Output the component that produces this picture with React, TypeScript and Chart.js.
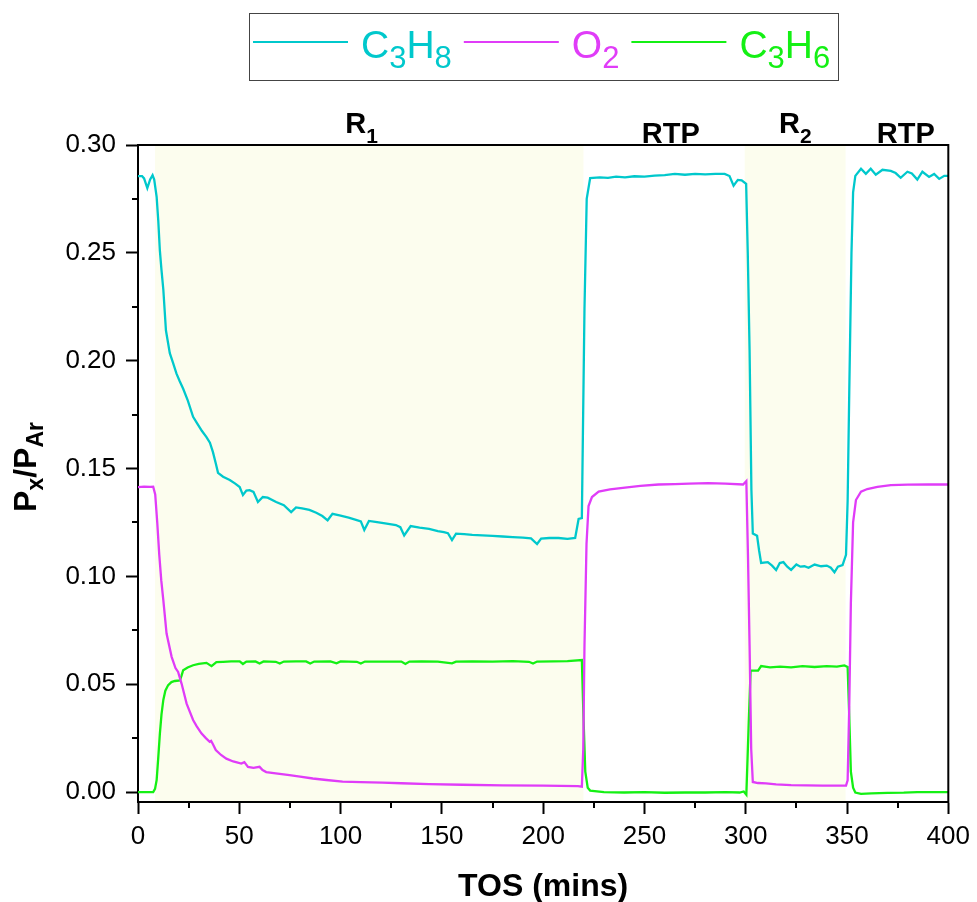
import React, { useEffect, useRef } from 'react';
import { Chart, registerables } from 'chart.js';

Chart.register(...registerables);

// Time on stream (min) and normalised partial pressures P_x / P_Ar
const c3h8Time = [
  0, 2, 3, 4.6, 6, 7.2, 8, 9.2, 10, 10.8, 11.6, 12.5, 13.8, 15.7, 17.3, 19, 20.6, 22.3, 24.6, 27.2,
  29.5, 31.5, 33.8, 35.5, 37, 38.5, 39.5, 42, 45.3, 48, 50.2, 51.8, 53.5, 55.1, 57, 59.2, 61.6, 64, 68.2, 72,
  75.6, 78, 81, 84.6, 88, 91, 93.6, 96, 100, 104, 107.6, 110, 111.7, 114, 118, 122, 127.3, 129.5, 131.4, 134.6,
  139, 143.7, 148, 151, 153, 155, 157, 161, 165, 170, 175, 180, 185, 190, 194, 197, 199, 203, 207.6, 212,
  215.8, 217.5, 219.1, 220.4, 221.5, 223.2, 228, 232, 236, 240.4, 245, 250, 255, 260, 265, 270, 275, 280, 285, 289.6,
  292, 294, 296.1, 298, 300.2, 301, 301.9, 302.8, 303.5, 305.6, 306.6, 307.6, 310.9, 313, 315, 316.8, 318.6, 320.5, 322.4, 325,
  327, 329, 331, 334, 337.2, 340, 342, 343.8, 345.5, 347.8, 349.5, 350.3, 351.1, 352.2, 353, 354.1, 356.9, 359.3, 361.7, 364.2,
  367.5, 371.6, 374, 376.5, 379.8, 382, 384.7, 387.2, 390.5, 393, 395.5, 398, 400,
];
const c3h8Values = [
  0.2856, 0.2856, 0.2845, 0.2800, 0.2840, 0.2860, 0.2840, 0.2760, 0.2650, 0.2510, 0.2420, 0.2330, 0.2140, 0.2035, 0.1990, 0.1940, 0.1905, 0.1870, 0.1815, 0.1740,
  0.1705, 0.1675, 0.1646, 0.1620, 0.1576, 0.1520, 0.1480, 0.1462, 0.1447, 0.1430, 0.1414, 0.1377, 0.1398, 0.1400, 0.1392, 0.1345, 0.1368, 0.1365, 0.1345, 0.1330,
  0.1298, 0.1320, 0.1315, 0.1308, 0.1295, 0.1280, 0.1260, 0.1290, 0.1282, 0.1272, 0.1262, 0.1255, 0.1215, 0.1257, 0.1252, 0.1246, 0.1238, 0.1228, 0.1190, 0.1233,
  0.1226, 0.1220, 0.1210, 0.1205, 0.1200, 0.1168, 0.1198, 0.1196, 0.1192, 0.1190, 0.1188, 0.1185, 0.1182, 0.1180, 0.1176, 0.1150, 0.1175, 0.1178, 0.1178, 0.1174,
  0.1178, 0.1266, 0.1270, 0.2240, 0.2750, 0.2847, 0.2850, 0.2848, 0.2853, 0.2850, 0.2855, 0.2853, 0.2858, 0.2860, 0.2866, 0.2862, 0.2866, 0.2864, 0.2866, 0.2866,
  0.2856, 0.2811, 0.2838, 0.2836, 0.2820, 0.2500, 0.2050, 0.1400, 0.1199, 0.1188, 0.1120, 0.1062, 0.1066, 0.1050, 0.1030, 0.1062, 0.1066, 0.1045, 0.1030, 0.1055,
  0.1045, 0.1047, 0.1040, 0.1055, 0.1047, 0.1050, 0.1040, 0.1019, 0.1045, 0.1052, 0.1100, 0.1350, 0.1852, 0.2500, 0.2780, 0.2857, 0.2890, 0.2866, 0.2890, 0.2862,
  0.2885, 0.2880, 0.2870, 0.2848, 0.2876, 0.2868, 0.2840, 0.2876, 0.2852, 0.2866, 0.2843, 0.2857, 0.2857,
];

const o2Time = [
  0, 3, 6, 7.5, 8.5, 9.5, 10.5, 11.5, 12.5, 14.1, 16.6, 18.5, 19.8, 21.5, 24, 27.2, 29, 31.3, 33.5, 35.4,
  36.1, 37, 38.4, 41, 43.6, 47, 51, 52.5, 54.3, 57, 60, 61.5, 63.3, 68, 74.8, 80, 86.3, 93, 101, 110,
  120.7, 130, 143.7, 160, 180, 200, 217.2, 219.1, 219.8, 220.4, 221.4, 222.4, 224.1, 227.4, 233, 240.4, 248, 256.9, 265, 272,
  281.5, 290, 298.7, 300.3, 301.1, 301.9, 302.7, 303.5, 306, 310, 315, 322.4, 330, 338, 345, 349.5, 350.3, 351.1, 351.9, 353,
  354.4, 356.9, 360, 365, 371.6, 380, 390, 400,
];
const o2Values = [
  0.1414, 0.1416, 0.1415, 0.1416, 0.1380, 0.1250, 0.1100, 0.0980, 0.0890, 0.0735, 0.0627, 0.0575, 0.0557, 0.0503, 0.0410, 0.0334, 0.0305, 0.0272, 0.0250, 0.0233,
  0.0237, 0.0222, 0.0195, 0.0172, 0.0155, 0.0142, 0.0132, 0.0139, 0.0117, 0.0112, 0.0117, 0.0102, 0.0093, 0.0087, 0.0079, 0.0072, 0.0063, 0.0056, 0.0048, 0.0046,
  0.0044, 0.0041, 0.0037, 0.0034, 0.0031, 0.0030, 0.0028, 0.0025, 0.0200, 0.0680, 0.1150, 0.1326, 0.1368, 0.1393, 0.1403, 0.1412, 0.1420, 0.1426, 0.1428, 0.1430,
  0.1432, 0.1430, 0.1426, 0.1442, 0.1100, 0.0680, 0.0200, 0.0047, 0.0042, 0.0040, 0.0036, 0.0032, 0.0031, 0.0030, 0.0030, 0.0030, 0.0055, 0.0400, 0.0876, 0.1250,
  0.1354, 0.1393, 0.1405, 0.1415, 0.1423, 0.1425, 0.1426, 0.1426,
];

const c3h6Time = [
  0, 4, 7.5, 8.4, 9.2, 10, 10.8, 11.6, 12.5, 13.5, 14.9, 16.5, 18.2, 20.7, 21.5, 22.3, 24.5, 27.2, 30, 33.8,
  36.3, 38.7, 42, 46, 50.2, 51.8, 53.5, 58, 60, 62, 68, 70, 72, 78, 83, 85, 87, 95, 98, 100,
  108, 110, 112, 120, 130, 132, 134, 140, 148, 155, 157, 165, 175, 185, 193, 195, 197, 205, 212, 219.1,
  219.9, 220.8, 222, 223.2, 230, 240, 250, 260, 270, 280, 290, 297, 299, 300.3, 301.4, 302.4, 306.1, 307.6, 312, 317,
  322.4, 328, 334, 340, 345, 348.7, 350.3, 351.1, 351.9, 353, 354.1, 356.9, 362, 370, 378, 384.7, 392, 400,
];
const c3h6Values = [
  0.0000, 0.0000, 0.0000, 0.0015, 0.0055, 0.0160, 0.0271, 0.0360, 0.0427, 0.0470, 0.0496, 0.0510, 0.0515, 0.0518, 0.0540, 0.0565, 0.0578, 0.0588, 0.0594, 0.0599,
  0.0584, 0.0603, 0.0604, 0.0606, 0.0606, 0.0594, 0.0605, 0.0606, 0.0596, 0.0606, 0.0604, 0.0596, 0.0605, 0.0606, 0.0606, 0.0596, 0.0605, 0.0606, 0.0597, 0.0606,
  0.0604, 0.0596, 0.0605, 0.0605, 0.0605, 0.0594, 0.0605, 0.0606, 0.0605, 0.0597, 0.0605, 0.0606, 0.0605, 0.0607, 0.0604, 0.0596, 0.0605, 0.0606, 0.0607, 0.0612,
  0.0350, 0.0095, 0.0020, 0.0007, 0.0000, -0.0002, 0.0000, -0.0003, -0.0002, -0.0002, 0.0000, -0.0002, 0.0003, -0.0012, 0.0300, 0.0563, 0.0563, 0.0584, 0.0578, 0.0582,
  0.0578, 0.0584, 0.0580, 0.0584, 0.0582, 0.0587, 0.0580, 0.0350, 0.0095, 0.0020, -0.0002, -0.0008, -0.0006, -0.0004, -0.0003, 0.0000, 0.0000, 0.0000,
];

// Axis ticks
const xMajorTicks = [0, 50, 100, 150, 200, 250, 300, 350, 400];
const xMinorTicks = [25, 75, 125, 175, 225, 275, 325, 375];
const yMajorTicks = [0, 0.05, 0.1, 0.15, 0.2, 0.25, 0.3];
const yMinorTicks = [0.025, 0.075, 0.125, 0.175, 0.225, 0.275];

// Reaction periods (shaded) and the period labels above the frame
const shadeStart = [8.4, 299.5];
const shadeEnd = [219.9, 349.3];
const periodNames = ['R', 'RTP', 'R', 'RTP'];
const periodSubs = ['1', '', '2', ''];
const periodCentres = [110.4, 263, 324.5, 379];

// Legend entries: [text, isSubscript]
const legendRuns: [string, boolean][][] = [
  [['C', false], ['3', true], ['H', false], ['8', true]],
  [['O', false], ['2', true]],
  [['C', false], ['3', true], ['H', false], ['6', true]],
];

const COLORS = ['#00C8CC', '#E03CF8', '#14F014'];
const SHADE = '#FCFDEE';
const FONT = "'Liberation Sans', Arial, Helvetica, sans-serif";

function runsWidth(ctx: CanvasRenderingContext2D, runs: [string, boolean][], big: string, small: string) {
  let w = 0;
  for (const [t, sub] of runs) {
    ctx.font = sub ? small : big;
    w += ctx.measureText(t).width;
  }
  return w;
}

function drawRuns(
  ctx: CanvasRenderingContext2D,
  runs: [string, boolean][],
  x: number,
  y: number,
  big: string,
  small: string,
  dy: number,
) {
  let cx = x;
  for (const [t, sub] of runs) {
    ctx.font = sub ? small : big;
    ctx.fillText(t, cx, sub ? y + dy : y);
    cx += ctx.measureText(t).width;
  }
  return cx;
}

const decorPlugin = {
  id: 'decor',
  beforeDatasetsDraw(chart: any) {
    const { ctx, chartArea: a, scales } = chart;
    const xs = scales.x;
    ctx.save();
    ctx.fillStyle = SHADE;
    for (let i = 0; i < shadeStart.length; i++) {
      const x0 = xs.getPixelForValue(shadeStart[i]);
      const x1 = xs.getPixelForValue(shadeEnd[i]);
      ctx.fillRect(x0, a.top + 1, x1 - x0, a.bottom - a.top - 2);
    }
    ctx.restore();
  },
  afterDraw(chart: any) {
    const { ctx, chartArea: a, scales } = chart;
    const xs = scales.x;
    const ys = scales.y;
    ctx.save();

    // frame: top and right edges
    ctx.strokeStyle = '#000';
    ctx.lineWidth = 2;
    ctx.beginPath();
    ctx.moveTo(a.left - 1, a.top);
    ctx.lineTo(a.right, a.top);
    ctx.lineTo(a.right, a.bottom + 1);
    ctx.stroke();

    // minor ticks
    ctx.beginPath();
    for (const v of yMinorTicks) {
      const py = Math.round(ys.getPixelForValue(v));
      ctx.moveTo(a.left - 6, py);
      ctx.lineTo(a.left, py);
    }
    for (const v of xMinorTicks) {
      const px = Math.round(xs.getPixelForValue(v));
      ctx.moveTo(px, a.bottom);
      ctx.lineTo(px, a.bottom + 6);
    }
    ctx.stroke();

    ctx.fillStyle = '#000';
    ctx.textBaseline = 'alphabetic';

    // x axis title
    ctx.font = `bold 32px ${FONT}`;
    ctx.textAlign = 'center';
    ctx.fillText('TOS (mins)', (a.left + a.right) / 2, 896);

    // y axis title with subscripts
    ctx.textAlign = 'left';
    const yRuns: [string, boolean][] = [['P', false], ['x', true], ['/P', false], ['Ar', true]];
    const yBig = `bold 32px ${FONT}`;
    const ySmall = `bold 23px ${FONT}`;
    const yw = runsWidth(ctx, yRuns, yBig, ySmall);
    ctx.translate(36, 467);
    ctx.rotate(-Math.PI / 2);
    drawRuns(ctx, yRuns, -yw / 2, 0, yBig, ySmall, 7);
    ctx.setTransform(1, 0, 0, 1, 0, 0);

    // period labels
    const pBig = `bold 29px ${FONT}`;
    const pSmall = `bold 21px ${FONT}`;
    for (let i = 0; i < periodNames.length; i++) {
      const runs: [string, boolean][] = [[periodNames[i], false]];
      if (periodSubs[i]) runs.push([periodSubs[i], true]);
      const w = runsWidth(ctx, runs, pBig, pSmall);
      const cx = xs.getPixelForValue(periodCentres[i]);
      const base = periodSubs[i] ? 133 : 143;
      drawRuns(ctx, runs, cx - w / 2, base, pBig, pSmall, 10);
    }

    // legend
    ctx.strokeStyle = '#444';
    ctx.lineWidth = 1;
    ctx.strokeRect(249.5, 13.5, 589, 67);
    const lBig = `39px ${FONT}`;
    const lSmall = `31px ${FONT}`;
    let lx = 253;
    for (let i = 0; i < legendRuns.length; i++) {
      ctx.strokeStyle = COLORS[i];
      ctx.lineWidth = 2;
      ctx.beginPath();
      ctx.moveTo(lx, 42);
      ctx.lineTo(lx + 95, 42);
      ctx.stroke();
      lx += 95 + 13;
      ctx.fillStyle = COLORS[i];
      lx = drawRuns(ctx, legendRuns[i], lx, 58, lBig, lSmall, 10) + 12;
    }

    ctx.restore();
  },
};

function toPoints(xs: number[], ys: number[]) {
  return xs.map((x, i) => ({ x, y: ys[i] }));
}

export default function App() {
  const canvasRef = useRef<HTMLCanvasElement | null>(null);

  useEffect(() => {
    const canvas = canvasRef.current;
    if (!canvas) return;
    const chart = new Chart(canvas, {
      type: 'line',
      data: {
        datasets: [
          { label: 'C3H8', data: toPoints(c3h8Time, c3h8Values), borderColor: COLORS[0] },
          { label: 'O2', data: toPoints(o2Time, o2Values), borderColor: COLORS[1] },
          { label: 'C3H6', data: toPoints(c3h6Time, c3h6Values), borderColor: COLORS[2] },
        ].map((d) => ({ ...d, borderWidth: 2.3, pointRadius: 0, tension: 0, fill: false })),
      },
      options: {
        responsive: false,
        maintainAspectRatio: false,
        devicePixelRatio: 1,
        animation: false,
        events: [],
        layout: { padding: { left: 0, right: 26, top: 145, bottom: 0 } },
        plugins: { legend: { display: false }, tooltip: { enabled: false }, title: { display: false } },
        scales: {
          x: {
            type: 'linear',
            min: 0,
            max: 400,
            afterFit: (s: any) => {
              s.height = 100;
            },
            afterBuildTicks: (s: any) => {
              s.ticks = xMajorTicks.map((value) => ({ value }));
            },
            ticks: {
              color: '#000',
              font: { family: FONT, size: 26 },
              padding: 7,
              maxRotation: 0,
              callback: (v: any) => String(v),
            },
            grid: { drawOnChartArea: false, drawTicks: true, tickLength: 12, tickWidth: 2, tickColor: '#000' },
            border: { display: true, color: '#000', width: 2 },
          },
          y: {
            type: 'linear',
            min: -0.0046,
            max: 0.3,
            afterFit: (s: any) => {
              s.width = 138;
            },
            afterBuildTicks: (s: any) => {
              s.ticks = yMajorTicks.map((value) => ({ value }));
            },
            ticks: {
              color: '#000',
              font: { family: FONT, size: 26 },
              padding: 10,
              callback: (v: any) => Number(v).toFixed(2),
            },
            grid: { drawOnChartArea: false, drawTicks: true, tickLength: 12, tickWidth: 2, tickColor: '#000' },
            border: { display: true, color: '#000', width: 2 },
          },
        },
      },
      plugins: [decorPlugin],
    } as any);
    return () => chart.destroy();
  }, []);

  return (
    <div style={{ position: 'fixed', left: 0, top: 0, width: 977, height: 902, background: '#fff' }}>
      <canvas ref={canvasRef} width={977} height={902} />
    </div>
  );
}
